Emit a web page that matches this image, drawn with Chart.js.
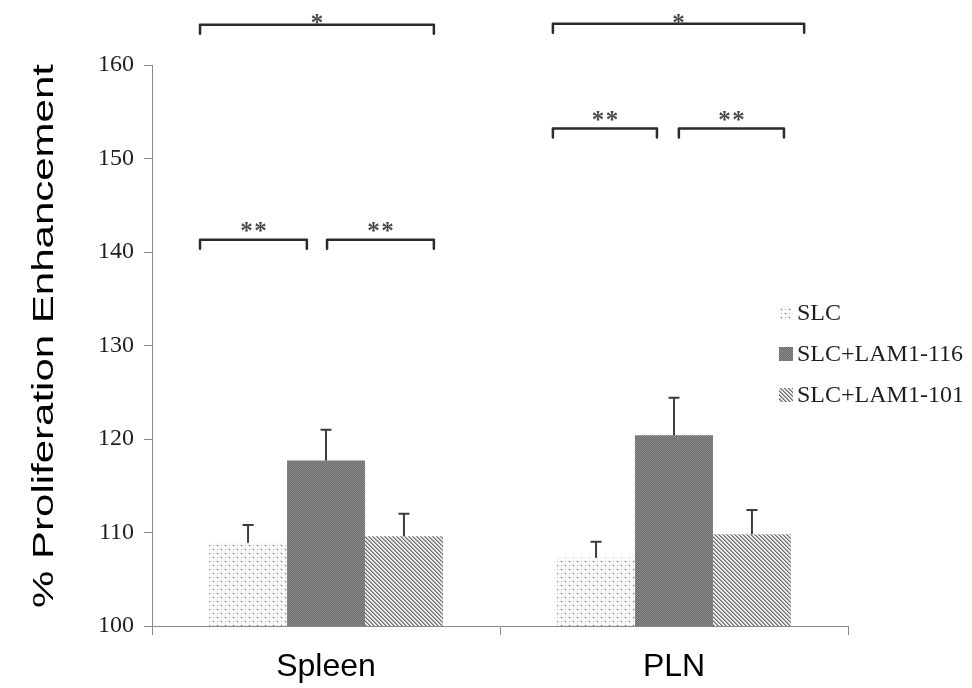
<!DOCTYPE html>
<html><head><meta charset="utf-8">
<script src="https://cdn.jsdelivr.net/npm/chart.js@4.4.1/dist/chart.umd.min.js"></script>
<style>html,body{margin:0;padding:0;background:#fff}#wrap{width:972px;height:688px;position:relative}</style>
</head><body><div id="wrap"><canvas id="c" width="972" height="688"></canvas></div>
<script>
// ---- data ----
const categories = ['Spleen', 'PLN'];
const seriesNames = ['SLC', 'SLC+LAM1-116', 'SLC+LAM1-101'];
const slcValues = [108.9, 107.3];
const lam116Values = [117.7, 120.4];
const lam101Values = [109.6, 109.8];
const slcErrors = [1.9, 1.7];
const lam116Errors = [3.3, 4.0];
const lam101Errors = [2.4, 2.6];
const yTickValues = [100, 110, 120, 130, 140, 150, 160];
const yTitle = '% Proliferation Enhancement';
// significance brackets: category index, start/end offsets (in category units), height (value), label
const bracketCats = [0, 0, 0, 1, 1, 1];
const bracketFrom = [-0.362, -0.362, 0.003, -0.348, -0.348, 0.014];
const bracketTo = [0.31, -0.055, 0.31, 0.374, -0.049, 0.316];
const bracketLevel = [164.3, 141.3, 141.3, 164.4, 153.2, 153.2];
const bracketLabel = ['*', '**', '**', '*', '**', '**'];

// ---- patterns ----
function makePattern(w, h, painter) {
  const c = document.createElement('canvas');
  c.width = w; c.height = h;
  const x = c.getContext('2d');
  painter(x, w, h);
  return x.createPattern(c, 'repeat');
}
const dotPattern = makePattern(8, 8, (x) => {
  x.fillStyle = '#fbfbfb'; x.fillRect(0, 0, 8, 8);
  x.fillStyle = '#7e7e7e'; x.fillRect(1, 1, 1, 1); x.fillRect(5, 5, 1, 1);
  x.fillStyle = '#bdbdbd'; x.fillRect(5, 1, 1, 1); x.fillRect(1, 5, 1, 1);
  x.fillStyle = '#dcdcdc'; x.fillRect(0, 1, 1, 1); x.fillRect(2, 1, 1, 1); x.fillRect(4, 5, 1, 1); x.fillRect(6, 5, 1, 1);
  x.fillStyle = '#e4e4e4'; x.fillRect(1, 0, 1, 1); x.fillRect(1, 2, 1, 1); x.fillRect(5, 4, 1, 1); x.fillRect(5, 6, 1, 1);
});
const checkPattern = makePattern(2, 2, (x) => {
  x.fillStyle = '#6a6a6a'; x.fillRect(0, 0, 2, 2);
  x.fillStyle = '#8c8c8c'; x.fillRect(0, 0, 1, 1); x.fillRect(1, 1, 1, 1);
});
const stripePattern = makePattern(4, 4, (x) => {
  for (let i = 0; i < 4; i++) for (let j = 0; j < 4; j++) {
    const d = ((i - j) % 4 + 4) % 4;
    x.fillStyle = d === 0 ? '#6c6c6c' : d === 1 ? '#a8a8a8' : '#ececec';
    x.fillRect(i, j, 1, 1);
  }
});

const axisColor = '#8a8a8a';

// ---- plugins ----
const errorBarPlugin = {
  id: 'errorBars',
  afterDatasetsDraw(chart) {
    const { ctx } = chart;
    const yScale = chart.scales.y;
    ctx.save();
    ctx.strokeStyle = '#3c3c3c';
    ctx.lineWidth = 2;
    chart.data.datasets.forEach((ds, di) => {
      const meta = chart.getDatasetMeta(di);
      meta.data.forEach((bar, i) => {
        const top = yScale.getPixelForValue(ds.data[i] + ds.errors[i]);
        ctx.beginPath();
        ctx.moveTo(bar.x, bar.y);
        ctx.lineTo(bar.x, top);
        ctx.moveTo(bar.x - 5.5, top);
        ctx.lineTo(bar.x + 5.5, top);
        ctx.stroke();
      });
    });
    ctx.restore();
  }
};

const annotatePlugin = {
  id: 'annotate',
  afterDraw(chart) {
    const { ctx } = chart;
    const xs = chart.scales.x, ys = chart.scales.y;
    ctx.save();
    // brackets
    ctx.strokeStyle = '#2b2b2b';
    ctx.lineWidth = 2.5;
    ctx.lineJoin = 'round';
    ctx.lineCap = 'round';
    for (let k = 0; k < bracketCats.length; k++) {
      const x1 = xs.getPixelForValue(bracketCats[k] + bracketFrom[k]);
      const x2 = xs.getPixelForValue(bracketCats[k] + bracketTo[k]);
      const y = ys.getPixelForValue(bracketLevel[k]);
      ctx.beginPath();
      ctx.moveTo(x1, y + 9);
      ctx.lineTo(x1, y);
      ctx.lineTo(x2, y);
      ctx.lineTo(x2, y + 9);
      ctx.stroke();
      ctx.fillStyle = '#4a4a4a';
      ctx.font = 'bold 25px "Liberation Serif", "Times New Roman", serif';
      ctx.textAlign = 'center';
      ctx.textBaseline = 'alphabetic';
      const cx = (x1 + x2) / 2;
      const by = Math.max(y - 1, 31);
      const n = bracketLabel[k].length;
      for (let s = 0; s < n; s++) {
        ctx.fillText('*', cx + (s - (n - 1) / 2) * 14, by);
      }
    }
    // legend
    const legendY = [313, 354, 395];
    ctx.font = '24px "Liberation Serif", "Times New Roman", serif';
    ctx.textAlign = 'left';
    ctx.textBaseline = 'middle';
    chart.data.datasets.forEach((ds, i) => {
      ctx.fillStyle = ds.backgroundColor;
      ctx.fillRect(779, legendY[i] - 7, 14, 14);
      ctx.fillStyle = '#1e1e1e';
      ctx.fillText(ds.label, 797, legendY[i] + 1);
    });
    // y title
    ctx.save();
    ctx.translate(53, 336);
    ctx.rotate(-Math.PI / 2);
    ctx.scale(1.4, 1);
    ctx.font = '30px "Liberation Sans", Arial, sans-serif';
    ctx.fillStyle = '#000';
    ctx.textAlign = 'center';
    ctx.textBaseline = 'alphabetic';
    ctx.fillText(yTitle, 0, 0);
    ctx.restore();
    ctx.restore();
  }
};

new Chart(document.getElementById('c'), {
  type: 'bar',
  data: {
    labels: categories,
    datasets: [
      { label: seriesNames[0], data: slcValues, errors: slcErrors, backgroundColor: dotPattern },
      { label: seriesNames[1], data: lam116Values, errors: lam116Errors, backgroundColor: checkPattern },
      { label: seriesNames[2], data: lam101Values, errors: lam101Errors, backgroundColor: stripePattern }
    ]
  },
  options: {
    responsive: false,
    animation: false,
    devicePixelRatio: 1,
    layout: { padding: { top: 65, right: 124, left: 0, bottom: 0 } },
    datasets: { bar: { categoryPercentage: 0.672, barPercentage: 1.0, borderWidth: 0 } },
    plugins: { legend: { display: false }, tooltip: { enabled: false } },
    scales: {
      x: {
        afterFit(s) { s.height = 62; },
        grid: { display: true, drawOnChartArea: false, offset: true, tickLength: 9, color: axisColor },
        border: { color: axisColor, width: 1 },
        ticks: { color: '#000', padding: 13, font: { family: '"Liberation Sans", Arial, sans-serif', size: 32 } }
      },
      y: {
        min: 100, max: 160,
        afterFit(s) { s.width = 152; },
        afterBuildTicks(s) { s.ticks = yTickValues.map(v => ({ value: v })); },
        grid: { display: true, drawOnChartArea: false, tickLength: 8, color: axisColor },
        border: { color: axisColor, width: 1 },
        ticks: { color: '#1e1e1e', padding: 10, font: { family: '"Liberation Serif", "Times New Roman", serif', size: 24 } }
      }
    }
  },
  plugins: [errorBarPlugin, annotatePlugin]
});
</script>
</body></html>
